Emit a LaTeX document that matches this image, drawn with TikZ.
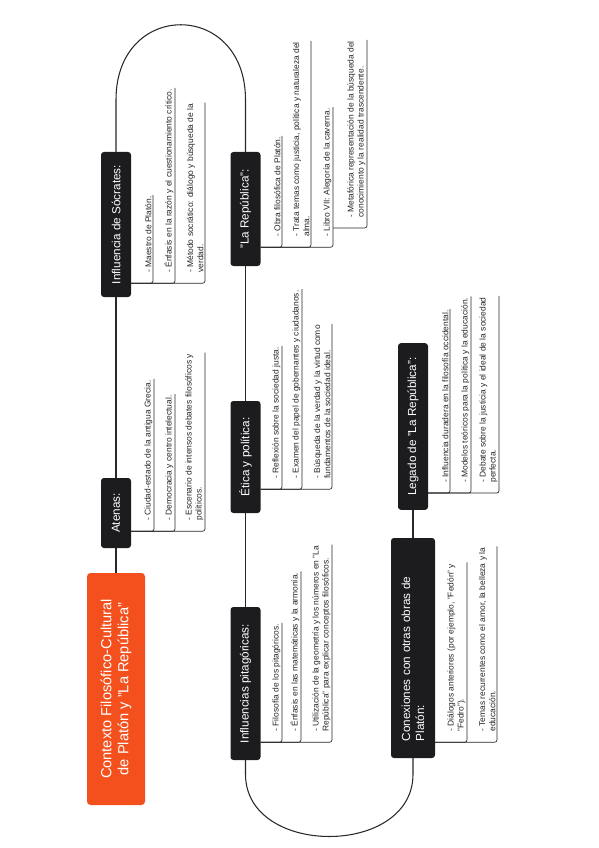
\documentclass[tikz,border=0pt]{standalone}
\usepackage{fontspec}
\setmainfont{Liberation Sans}
\usetikzlibrary{calc}
\definecolor{rootorange}{RGB}{244,80,30}
\definecolor{boxblack}{RGB}{28,28,30}
\definecolor{linegray}{RGB}{40,40,40}

\begin{document}
\begin{tikzpicture}[
  x=0.03cm, y=-0.03cm,
  root/.style  = {rotate=90, fill=rootorange, text=white, rounded corners=3pt, align=center,
                  minimum width=6.96cm, minimum height=1.74cm,
                  font=\fontsize{12.5}{14.5}\selectfont},
  topic/.style = {rotate=90, fill=boxblack, text=white, rounded corners=2.5pt,
                  minimum height=0.9cm, font=\fontsize{10}{12}\selectfont},
  leaf/.style  = {rotate=90, anchor=south west, align=left, inner xsep=1pt, inner ysep=1.2pt,
                  text=black!85, font=\fontsize{7.2}{8.6}\selectfont},
  spine/.style = {draw=linegray, line width=0.9pt},
  link/.style  = {draw=linegray, line width=0.6pt, rounded corners=2pt},
]
\useasboundingbox (0,0) rectangle (599,848);

% =============== spine of topics ===============
\node[root] (ctx) at (116,689) {Contexto Filosófico-Cultural\\de Platón y "La República"};

\node[topic, minimum width=2.1cm]  (atenas) at (116,513)   {Atenas:};
\node[topic, minimum width=4.35cm] (socr)   at (116,224.5) {Influencia de Sócrates:};
\node[topic, minimum width=3.42cm] (rep)    at (245.5,209) {"La República":};
\node[topic, minimum width=3.36cm] (etica)  at (245.5,457) {Ética y política:};
\node[topic, minimum width=4.59cm] (pita)   at (245.5,683.5) {Influencias pitagóricas:};
\node[topic, minimum width=6.6cm, minimum height=1.32cm, align=left, text width=5.6cm,
      inner xsep=0.5cm] (conex) at (413,648) {Conexiones con otras obras de\\Platón:};
\node[topic, minimum width=5.0cm]  (legado) at (413,426.5) {Legado de "La República":};

\draw[spine] (ctx.east) -- (atenas.west);
\draw[spine] (atenas.east) -- (socr.west);
\draw[spine] (socr.east) -- ++(0,-52) coordinate (tl)
  .. controls +(0,-100) and +(0,-100) .. (tl -| rep.east) -- (rep.east);
\draw[spine] (rep.west) -- (etica.east);
\draw[spine] (etica.west) -- (pita.east);
\draw[spine] (pita.west) -- ++(0,14) coordinate (bl)
  .. controls +(0,83) and +(0,83) .. (bl -| conex.west) -- (conex.west);
\draw[spine] (conex.east) -- (legado.west);

% bracket points on each topic
\path (atenas.south west) ++(0,-17) coordinate (atenasb);
\path (socr.south west)   ++(0,-14) coordinate (socrb);
\path (rep.south west)    ++(0,-19) coordinate (repb);
\path (etica.south west)  ++(0,-24) coordinate (eticab);
\path (pita.south west)   ++(0,-18) coordinate (pitab);
\path (conex.south west)  ++(0,-16) coordinate (conexb);
\path (legado.south west) ++(0,-17) coordinate (legadob);

% =============== Atenas ===============
\node[leaf] (a1) at (154,522) {- Ciudad-estado de la antigua Grecia.};
\node[leaf] (a2) at (175,522) {- Democracia y centro intelectual.};
\node[leaf] (a3) at (205,522) {- Escenario de intensos debates filosóficos y\\políticos.};
\foreach \l in {a1,a2,a3} \draw[link] (atenasb) -| (\l.south east);

% =============== Sócrates ===============
\node[leaf] (s1) at (153,274) {- Maestro de Platón.};
\node[leaf] (s2) at (175,274) {- Énfasis en la razón y el cuestionamiento crítico.};
\node[leaf] (s3) at (205,274) {- Método socrático: diálogo y búsqueda de la\\verdad.};
\foreach \l in {s1,s2,s3} \draw[link] (socrb) -| (\l.south east);

% =============== La República ===============
\node[leaf] (r1) at (282,238) {- Obra filosófica de Platón.};
\node[leaf] (r2) at (311,238) {- Trata temas como justicia, política y naturaleza del\\alma.};
\node[leaf] (r3) at (333,238) {- Libro VII: Alegoría de la caverna.};
\foreach \l in {r1,r2,r3} \draw[link] (repb) -| (\l.south east);
\path (r3.south west) ++(0,-10) coordinate (r3b);
\node[leaf] (r4) at (367,219) {- Metafórica representación de la búsqueda del\\conocimiento y la realidad trascendente.};
\draw[link] (r3b) -| (r4.south east);

% =============== Ética y política ===============
\node[leaf] (e1) at (282,480) {- Reflexión sobre la sociedad justa.};
\node[leaf] (e2) at (302,480) {- Examen del papel de gobernantes y ciudadanos.};
\node[leaf] (e3) at (332,480) {- Búsqueda de la verdad y la virtud como\\fundamentos de la sociedad ideal.};
\foreach \l in {e1,e2,e3} \draw[link] (eticab) -| (\l.south east);

% =============== Pitagóricas ===============
\node[leaf] (p1) at (282,733) {- Filosofía de los pitagóricos.};
\node[leaf] (p2) at (301,733) {- Énfasis en las matemáticas y la armonía.};
\node[leaf] (p3) at (332,733) {- Utilización de la geometría y los números en "La\\República" para explicar conceptos filosóficos.};
\foreach \l in {p1,p2,p3} \draw[link] (pitab) -| (\l.south east);

% =============== Conexiones ===============
\node[leaf] (c1) at (467,733) {- Diálogos anteriores (por ejemplo, "Fedón" y\\"Fedro").};
\node[leaf] (c2) at (497,733) {- Temas recurrentes como el amor, la belleza y la\\educación.};
\foreach \l in {c1,c2} \draw[link] (conexb) -| (\l.south east);

% =============== Legado ===============
\node[leaf] (l1) at (450,484) {- Influencia duradera en la filosofía occidental.};
\node[leaf] (l2) at (471,484) {- Modelos teóricos para la política y la educación.};
\node[leaf] (l3) at (499,484) {- Debate sobre la justicia y el ideal de la sociedad\\perfecta.};
\foreach \l in {l1,l2,l3} \draw[link] (legadob) -| (\l.south east);

\end{tikzpicture}
\end{document}
